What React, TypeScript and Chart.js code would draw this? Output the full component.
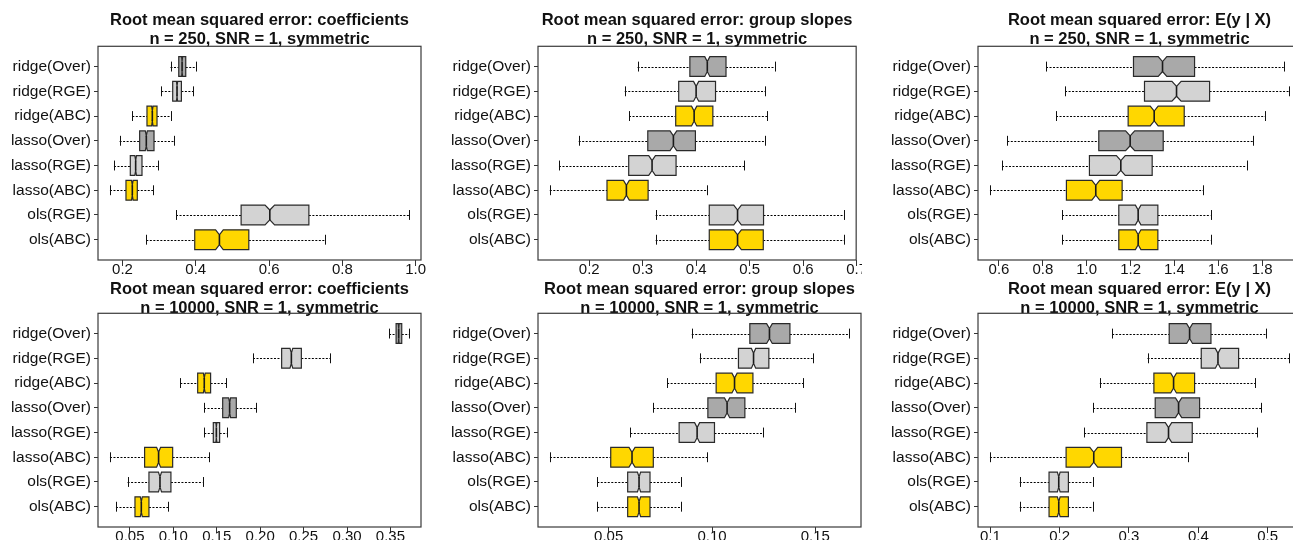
import React, { useEffect, useRef } from 'react';
import { Chart, registerables } from 'chart.js';

Chart.register(...registerables);

const FONT_FAMILY = '"Liberation Sans", Arial, Helvetica, sans-serif';

// Categories, top to bottom
const CATEGORIES = ['ridge(Over)', 'ridge(RGE)', 'ridge(ABC)', 'lasso(Over)', 'lasso(RGE)', 'lasso(ABC)', 'ols(RGE)', 'ols(ABC)'];
const BOX_COLORS = ['#A9A9A9', '#D3D3D3', '#FFD700', '#A9A9A9', '#D3D3D3', '#FFD700', '#D3D3D3', '#FFD700'];

// Each row: [lower whisker, Q1, median, Q3, upper whisker]
const coefN250 = [
  [0.331, 0.3535, 0.3626, 0.3726, 0.3998],
  [0.306, 0.337, 0.3488, 0.3607, 0.3925],
  [0.2268, 0.2668, 0.2814, 0.2942, 0.3334],
  [0.1922, 0.2468, 0.265, 0.286, 0.3415],
  [0.1767, 0.2213, 0.2359, 0.2532, 0.296],
  [0.1658, 0.2095, 0.2268, 0.2404, 0.2832],
  [0.3461, 0.5237, 0.602, 0.7086, 0.9819],
  [0.265, 0.3971, 0.4645, 0.5447, 0.7514],
];
const slopesN250 = [
  [0.2904, 0.3882, 0.4208, 0.4558, 0.5475],
  [0.2664, 0.3673, 0.3999, 0.4362, 0.529],
  [0.2744, 0.3617, 0.3962, 0.4312, 0.5327],
  [0.1803, 0.3095, 0.3574, 0.3986, 0.5296],
  [0.1434, 0.2738, 0.3175, 0.3624, 0.4903],
  [0.1262, 0.2332, 0.2695, 0.3101, 0.4196],
  [0.3242, 0.4245, 0.4774, 0.526, 0.6772],
  [0.3242, 0.4245, 0.4774, 0.5255, 0.6772],
];
const eyN250 = [
  [0.8146, 1.2134, 1.3458, 1.4919, 1.8983],
  [0.9014, 1.2636, 1.4097, 1.5604, 1.9227],
  [0.8603, 1.189, 1.3078, 1.4447, 1.8146],
  [0.638, 1.0551, 1.1982, 1.3489, 1.7583],
  [0.6137, 1.0125, 1.1556, 1.2986, 1.7294],
  [0.5589, 0.9075, 1.0414, 1.1616, 1.5315],
  [0.8877, 1.1464, 1.2347, 1.3245, 1.565],
  [0.8877, 1.1464, 1.2347, 1.3245, 1.565],
];
const coefN10000 = [
  [0.3484, 0.3565, 0.3595, 0.363, 0.3714],
  [0.1917, 0.2247, 0.2359, 0.2474, 0.2804],
  [0.108, 0.128, 0.1356, 0.1429, 0.161],
  [0.1353, 0.1568, 0.1648, 0.1725, 0.1952],
  [0.1356, 0.146, 0.1495, 0.1533, 0.1617],
  [0.027, 0.0669, 0.083, 0.0992, 0.1414],
  [0.0473, 0.0719, 0.0846, 0.0972, 0.1337],
  [0.0339, 0.0558, 0.0631, 0.0719, 0.0942],
];
const slopesN10000 = [
  [0.0902, 0.1183, 0.1278, 0.1377, 0.1663],
  [0.0941, 0.1128, 0.1201, 0.1275, 0.1487],
  [0.0783, 0.102, 0.1109, 0.1198, 0.1442],
  [0.0716, 0.098, 0.1073, 0.1159, 0.14],
  [0.0605, 0.0841, 0.0928, 0.1012, 0.1246],
  [0.0216, 0.051, 0.0613, 0.0716, 0.0978],
  [0.0445, 0.0592, 0.0647, 0.07, 0.0852],
  [0.0445, 0.0592, 0.0647, 0.07, 0.0852],
];
const eyN10000 = [
  [0.2757, 0.358, 0.3874, 0.4182, 0.4981],
  [0.3267, 0.4042, 0.4283, 0.4581, 0.5308],
  [0.2579, 0.3359, 0.3643, 0.3946, 0.4822],
  [0.2483, 0.3378, 0.3715, 0.4018, 0.4904],
  [0.2353, 0.3258, 0.357, 0.3912, 0.4851],
  [0.0995, 0.2093, 0.2492, 0.2892, 0.3854],
  [0.1424, 0.1847, 0.1987, 0.2126, 0.2478],
  [0.1424, 0.1847, 0.1987, 0.2126, 0.2478],
];

// Tick values and labels
const ticksCoefN250 = [0.2, 0.4, 0.6, 0.8, 1.0];
const labelsCoefN250 = ['0.2', '0.4', '0.6', '0.8', '1.0'];
const ticksSlopesN250 = [0.2, 0.3, 0.4, 0.5, 0.6, 0.7];
const labelsSlopesN250 = ['0.2', '0.3', '0.4', '0.5', '0.6', '0.7'];
const ticksEyN250 = [0.6, 0.8, 1.0, 1.2, 1.4, 1.6, 1.8];
const labelsEyN250 = ['0.6', '0.8', '1.0', '1.2', '1.4', '1.6', '1.8'];
const ticksCoefN10000 = [0.05, 0.1, 0.15, 0.2, 0.25, 0.3, 0.35];
const labelsCoefN10000 = ['0.05', '0.10', '0.15', '0.20', '0.25', '0.30', '0.35'];
const ticksSlopesN10000 = [0.05, 0.1, 0.15];
const labelsSlopesN10000 = ['0.05', '0.10', '0.15'];
const ticksEyN10000 = [0.1, 0.2, 0.3, 0.4, 0.5];
const labelsEyN10000 = ['0.1', '0.2', '0.3', '0.4', '0.5'];

const TITLE_COEF = 'Root mean squared error: coefficients';
const TITLE_SLOPES = 'Root mean squared error: group slopes';
const TITLE_EY = 'Root mean squared error: E(y | X)';
const SUB_N250 = 'n = 250, SNR = 1, symmetric';
const SUB_N10000 = 'n = 10000, SNR = 1, symmetric';

const N_REPS = 500; // replications used for notch width (1.58 * IQR / sqrt(n))

type PanelDef = {
  title: string[];
  stats: number[][];
  ticks: number[];
  labels: string[];
  col: number;
  row: number;
};

const PANELS: PanelDef[] = [
  { title: [TITLE_COEF, SUB_N250], stats: coefN250, ticks: ticksCoefN250, labels: labelsCoefN250, col: 0, row: 0 },
  { title: [TITLE_SLOPES, SUB_N250], stats: slopesN250, ticks: ticksSlopesN250, labels: labelsSlopesN250, col: 1, row: 0 },
  { title: [TITLE_EY, SUB_N250], stats: eyN250, ticks: ticksEyN250, labels: labelsEyN250, col: 2, row: 0 },
  { title: [TITLE_COEF, SUB_N10000], stats: coefN10000, ticks: ticksCoefN10000, labels: labelsCoefN10000, col: 0, row: 1 },
  { title: [TITLE_SLOPES, SUB_N10000], stats: slopesN10000, ticks: ticksSlopesN10000, labels: labelsSlopesN10000, col: 1, row: 1 },
  { title: [TITLE_EY, SUB_N10000], stats: eyN10000, ticks: ticksEyN10000, labels: labelsEyN10000, col: 2, row: 1 },
];

// Layout geometry
const COLS = [
  { left: 0, width: 431, yAxisWidth: 98, padRight: 10 },
  { left: 431, width: 431, yAxisWidth: 107, padRight: 1 },
  { left: 862, width: 445, yAxisWidth: 116, padRight: 6 },
];
const ROWS = [
  { top: 0, height: 280, xAxisHeight: 20, titleTop: 11.5, titleBottom: -2.5 },
  { top: 270, height: 270, xAxisHeight: 13, titleTop: 10.3, titleBottom: -4.3 },
];

const BOX_HALF = 0.4;
const STAPLE_HALF = 0.2;
const NOTCH_FRAC = 0.5;

const notchedBoxPlugin = {
  id: 'notchedBoxes',
  afterDatasetsDraw(chart: any) {
    const ctx = chart.ctx;
    const xs = chart.scales.x;
    const ys = chart.scales.y;
    const pts = chart.data.datasets[0].data;
    ctx.save();
    const area = chart.chartArea;
    ctx.beginPath();
    ctx.rect(area.left, area.top, area.right - area.left, area.bottom - area.top);
    ctx.clip();
    pts.forEach((p: any) => {
      const yc = ys.getPixelForValue(p.y);
      const hw = Math.abs(ys.getPixelForValue(p.y + BOX_HALF) - yc);
      const sw = Math.abs(ys.getPixelForValue(p.y + STAPLE_HALF) - yc);
      const nw = hw * NOTCH_FRAC;
      const xLow = xs.getPixelForValue(p.low);
      const xQ1 = xs.getPixelForValue(p.q1);
      const xMed = xs.getPixelForValue(p.x);
      const xQ3 = xs.getPixelForValue(p.q3);
      const xHigh = xs.getPixelForValue(p.high);
      const notch = (1.58 * (p.q3 - p.q1)) / Math.sqrt(N_REPS);
      const xC1 = xs.getPixelForValue(p.x - notch);
      const xC2 = xs.getPixelForValue(p.x + notch);
      const yl = Math.round(yc) + 0.5;

      // whiskers (dotted)
      ctx.strokeStyle = '#000';
      ctx.lineWidth = 1;
      ctx.setLineDash([2, 1.5]);
      ctx.beginPath();
      ctx.moveTo(xLow, yl);
      ctx.lineTo(xQ1, yl);
      ctx.moveTo(xQ3, yl);
      ctx.lineTo(xHigh, yl);
      ctx.stroke();
      ctx.setLineDash([]);

      // staples
      ctx.strokeStyle = '#111';
      ctx.beginPath();
      const sl = Math.round(xLow) + 0.5;
      const sh = Math.round(xHigh) + 0.5;
      ctx.moveTo(sl, yc - sw);
      ctx.lineTo(sl, yc + sw);
      ctx.moveTo(sh, yc - sw);
      ctx.lineTo(sh, yc + sw);
      ctx.stroke();

      // notched box
      ctx.beginPath();
      ctx.moveTo(xQ1, yc - hw);
      ctx.lineTo(xC1, yc - hw);
      ctx.lineTo(xMed, yc - nw);
      ctx.lineTo(xC2, yc - hw);
      ctx.lineTo(xQ3, yc - hw);
      ctx.lineTo(xQ3, yc + hw);
      ctx.lineTo(xC2, yc + hw);
      ctx.lineTo(xMed, yc + nw);
      ctx.lineTo(xC1, yc + hw);
      ctx.lineTo(xQ1, yc + hw);
      ctx.closePath();
      ctx.fillStyle = p.color;
      ctx.fill();
      ctx.strokeStyle = '#2a2a2a';
      ctx.lineWidth = 1.2;
      ctx.stroke();

      // median
      ctx.beginPath();
      ctx.lineWidth = 1.6;
      ctx.strokeStyle = '#1a1a1a';
      ctx.moveTo(xMed, yc - nw);
      ctx.lineTo(xMed, yc + nw);
      ctx.stroke();
    });
    ctx.restore();
  },
  afterDraw(chart: any) {
    const { ctx, chartArea: a } = chart;
    ctx.save();
    ctx.strokeStyle = '#3a3a3a';
    ctx.lineWidth = 1.2;
    ctx.strokeRect(a.left, a.top, a.right - a.left, a.bottom - a.top);
    ctx.restore();
  },
};

function Panel({ def }: { def: PanelDef }) {
  const ref = useRef<HTMLCanvasElement | null>(null);
  const col = COLS[def.col];
  const row = ROWS[def.row];

  useEffect(() => {
    if (!ref.current) return;
    const n = CATEGORIES.length;
    const lo = Math.min(...def.stats.map((s) => s[0]));
    const hi = Math.max(...def.stats.map((s) => s[4]));
    const ext = 0.04 * (hi - lo);
    const yExt = 0.04 * n;
    const points = def.stats.map((s, i) => ({
      x: s[2],
      y: n - i,
      low: s[0],
      q1: s[1],
      q3: s[3],
      high: s[4],
      color: BOX_COLORS[i],
    }));

    const chart = new Chart(ref.current, {
      type: 'scatter',
      data: {
        datasets: [
          {
            data: points as any,
            pointRadius: 0,
            pointHoverRadius: 0,
            showLine: false,
          },
        ],
      },
      plugins: [notchedBoxPlugin],
      options: {
        responsive: false,
        animation: false,
        events: [],
        layout: { padding: { left: 0, right: col.padRight, top: 0, bottom: 0 } },
        plugins: {
          legend: { display: false },
          tooltip: { enabled: false },
          title: {
            display: true,
            fullSize: false,
            text: def.title,
            color: '#111',
            font: { family: FONT_FAMILY, size: 16.5, weight: 'bold', lineHeight: 1.13 },
            padding: { top: row.titleTop, bottom: row.titleBottom },
          },
        } as any,
        scales: {
          x: {
            type: 'linear',
            position: 'bottom',
            min: lo - ext,
            max: hi + ext,
            afterFit: (s: any) => {
              s.height = row.xAxisHeight;
            },
            afterBuildTicks: (s: any) => {
              s.ticks = def.ticks.map((v) => ({ value: v }));
            },
            ticks: {
              autoSkip: false,
              maxRotation: 0,
              padding: -5,
              color: '#111',
              font: { family: FONT_FAMILY, size: 15 },
              callback: (_v: any, idx: number) => def.labels[idx],
            },
            grid: { display: true, drawOnChartArea: false, drawTicks: true, tickLength: 6, color: '#333', lineWidth: 1 },
            border: { display: false },
          },
          y: {
            type: 'linear',
            position: 'left',
            min: 0.5 - yExt,
            max: n + 0.5 + yExt,
            afterFit: (s: any) => {
              s.width = col.yAxisWidth;
            },
            afterBuildTicks: (s: any) => {
              s.ticks = CATEGORIES.map((_c, i) => ({ value: n - i }));
            },
            ticks: {
              autoSkip: false,
              padding: 3,
              color: '#111',
              font: { family: FONT_FAMILY, size: 15.5 },
              callback: (v: any) => CATEGORIES[n - Number(v)],
            },
            grid: { display: true, drawOnChartArea: false, drawTicks: true, tickLength: 4, color: '#333', lineWidth: 1 },
            border: { display: false },
          },
        } as any,
      },
    });
    return () => chart.destroy();
  }, []);

  return (
    <canvas
      ref={ref}
      width={col.width}
      height={row.height}
      style={{ position: 'absolute', left: col.left, top: row.top, width: col.width, height: row.height }}
    />
  );
}

export default function App() {
  return (
    <div
      style={{
        position: 'fixed',
        left: 0,
        top: 0,
        width: 1293,
        height: 540,
        overflow: 'hidden',
        background: '#ffffff',
      }}
    >
      {PANELS.map((p, i) => (
        <Panel key={i} def={p} />
      ))}
    </div>
  );
}
